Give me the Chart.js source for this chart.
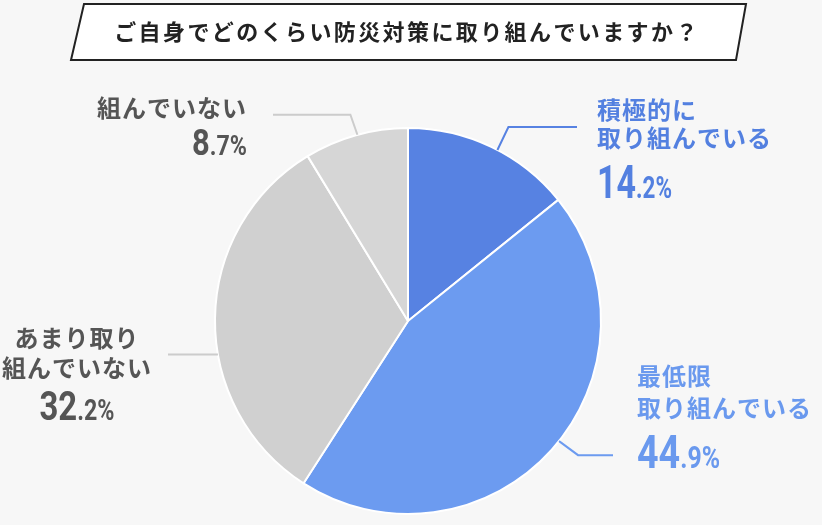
<!DOCTYPE html>
<html lang="ja">
<head>
    <meta charset="UTF-8">
    <title>防災対策アンケート</title>
    <style>
        body {
            margin: 0;
            background: #f7f7f7;
        }
        canvas {
            display: block;
        }
    </style>
</head>
<body>
    <canvas id="pie-chart" width="822" height="525"></canvas>

    <script src="https://cdn.jsdelivr.net/npm/chart.js"></script>
    <script>
        const title = 'ご自身でどのくらい防災対策に取り組んでいますか？';
        const labels = [
            ['積極的に', '取り組んでいる'],
            ['最低限', '取り組んでいる'],
            ['あまり取り', '組んでいない'],
            ['組んでいない']
        ];
        const values = [14.2, 44.9, 32.2, 8.7];

        const sliceColors = ['#5782e2', '#6c9bf0', '#d0d0d0', '#d6d6d6'];
        const textColors = ['#5380e0', '#6a99ee', '#555555', '#555555'];
        const lineColors = ['#5782e2', '#6c9bf0', '#cccccc', '#cccccc'];
        const JP = '"Noto Sans CJK JP", "Noto Sans", sans-serif';

        // label layout: leader line (anchor angle from top, elbow offsets), text block position
        const callouts = [
            {angle: 27.6, elbow: [11, -23], endX: 577, align: 'left', x: 597, lines: [110, 138], base: 198, big: 47, small: 31, width: 75},
            {angle: 128.5, elbow: [19, 14], endX: 613, align: 'left', x: 637, lines: [376, 408], base: 468, big: 47, small: 31, width: 83},
            {angle: 260, elbow: null, endX: 168, align: 'center', x: 77, lines: [338, 368], base: 420, big: 41, small: 29, width: 75},
            {angle: 344.8, elbow: [-7, -20], endX: 273, align: 'right', x: 247, lines: [108], base: 155, big: 36, small: 27, width: 55}
        ];

        function drawNumber(ctx, value, c, color) {
            const str = value.toFixed(1);
            const intPart = str.split('.')[0];
            const rest = '.' + str.split('.')[1] + '%';
            ctx.font = `700 ${c.big}px Roboto`;
            const wInt = ctx.measureText(intPart).width;
            ctx.font = `700 ${c.small}px Roboto`;
            const wRest = ctx.measureText(rest).width;
            const s = c.width / (wInt + wRest);
            let x0 = c.x;
            if (c.align === 'center') x0 = c.x - c.width / 2;
            if (c.align === 'right') x0 = c.x - c.width;
            ctx.save();
            ctx.translate(x0, c.base);
            ctx.scale(s, 1);
            ctx.fillStyle = color;
            ctx.textAlign = 'left';
            ctx.textBaseline = 'alphabetic';
            ctx.font = `700 ${c.big}px Roboto`;
            ctx.fillText(intPart, 0, 0);
            ctx.font = `700 ${c.small}px Roboto`;
            ctx.fillText(rest, wInt, 0);
            ctx.restore();
        }

        const calloutPlugin = {
            id: 'callouts',
            afterDraw(chart) {
                const ctx = chart.ctx;
                const arcs = chart.getDatasetMeta(0).data;

                // title box
                ctx.save();
                ctx.beginPath();
                ctx.moveTo(84, 4);
                ctx.lineTo(746, 4);
                ctx.lineTo(736, 60);
                ctx.lineTo(71, 60);
                ctx.closePath();
                ctx.fillStyle = '#ffffff';
                ctx.fill();
                ctx.lineWidth = 2;
                ctx.strokeStyle = '#222222';
                ctx.stroke();
                ctx.fillStyle = '#222222';
                ctx.font = `700 22px ${JP}`;
                ctx.letterSpacing = '2.4px';
                ctx.textAlign = 'center';
                ctx.textBaseline = 'middle';
                ctx.fillText(title, 407, 32);
                ctx.restore();

                arcs.forEach((arc, i) => {
                    const c = callouts[i];
                    const a = c.angle * Math.PI / 180;
                    const ax = arc.x + arc.outerRadius * Math.sin(a);
                    const ay = arc.y - arc.outerRadius * Math.cos(a);

                    ctx.save();
                    ctx.strokeStyle = lineColors[i];
                    ctx.lineWidth = 2;
                    ctx.beginPath();
                    ctx.moveTo(ax, ay);
                    let ey = ay;
                    if (c.elbow) {
                        ctx.lineTo(ax + c.elbow[0], ay + c.elbow[1]);
                        ey = ay + c.elbow[1];
                    }
                    ctx.lineTo(c.endX, ey);
                    ctx.stroke();

                    ctx.fillStyle = textColors[i];
                    ctx.font = `700 24px ${JP}`;
                    ctx.letterSpacing = '1px';
                    ctx.textAlign = c.align;
                    ctx.textBaseline = 'middle';
                    labels[i].forEach((t, k) => ctx.fillText(t, c.x, c.lines[k]));
                    ctx.restore();

                    drawNumber(ctx, values[i], c, textColors[i]);
                });
            }
        };

        new Chart(document.getElementById('pie-chart').getContext('2d'), {
            type: 'pie',
            data: {
                labels: labels.map(l => l.join('')),
                datasets: [{
                    data: values,
                    backgroundColor: sliceColors,
                    borderColor: '#ffffff',
                    borderWidth: 2
                }]
            },
            options: {
                responsive: false,
                animation: false,
                layout: {
                    padding: {left: 214, right: 220, top: 127, bottom: 10}
                },
                plugins: {
                    legend: {display: false},
                    tooltip: {enabled: false}
                }
            },
            plugins: [calloutPlugin]
        });
    </script>
</body>
</html>
